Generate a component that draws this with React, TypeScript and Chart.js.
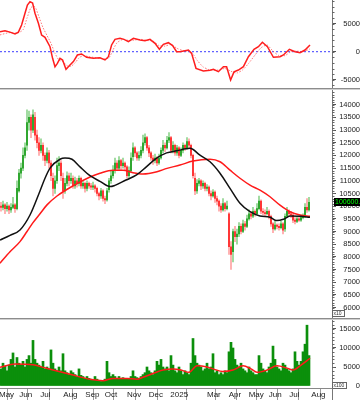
import React, { useEffect, useRef } from "react";
import { Chart, registerables } from "chart.js";

Chart.register(...registerables);

// ---------------- data ----------------
// x axis = candle index (each candle ~2 trading days)
const monthTickIdx = [-2, 8.15, 18.65, 30.15, 41.15, 50.85, 62, 72.85, 83.65, 102, 112.85, 122.85, 132.85, 143.15, 154.15];
const monthLabels = ["May", "Jun", "Jul", "Aug", "Sep", "Oct", "Nov", "Dec", "2025", "Mar", "Apr", "May", "Jun", "Jul", "Aug"];

const macdTicks = [-5000, 0, 5000];
const priceTicks = [6000, 6500, 7000, 7500, 8000, 8500, 9000, 9500, 10000, 10500, 11000, 11500, 12000, 12500, 13000, 13500, 14000];
const volumeTicks = [0, 5000, 10000, 15000];
const lastPriceLabel = "100600.0";

const opens = [
  10000, 9950, 10050, 9900, 10000, 9850, 9950, 10050, 9900, 10600,
  11300, 11500, 12000, 12400, 13300, 13500, 13000, 13500, 12800, 12500,
  12200, 12400, 12000, 11800, 12100, 11700, 11100, 10700, 11000, 11600,
  11700, 11100, 10600, 10900, 11200, 11000, 11100, 10800, 11000, 10900,
  11100, 10800, 10900, 10700, 10900, 10800, 10750, 10800, 10700, 10500,
  10400, 10600, 10300, 10250, 10650, 11000, 11200, 11400, 11700, 11500,
  11800, 11600, 11700, 11550, 11200, 11400, 11950, 12300, 12100, 11900,
  12000, 12200, 12500, 12700, 12300, 12100, 11900, 11800, 11900, 11700,
  11900, 12200, 12400, 12300, 12600, 12700, 12200, 12400, 12100, 12300,
  12000, 12200, 12400, 12300, 12550, 12400, 12000, 11100, 10600, 10900,
  11000, 10800, 10900, 10700, 10750, 10500, 10400, 10550, 10300, 10200,
  10000, 9850, 10100, 9900, 9700, 8400, 8200, 9000, 8800, 8900,
  9200, 9000, 9300, 9200, 9500, 9700, 9600, 9800, 9700, 9900,
  10200, 9800, 9750, 9700, 9800, 9600, 9300, 9100, 9250, 9200,
  9150, 9300, 9100, 9600, 9800, 9700, 9650, 9450, 9400, 9500,
  9450, 9550, 9650, 9950, 9850,
];
const highs = [
  10150, 10200, 10100, 10150, 10050, 10100, 10350, 10100, 11000, 11450,
  11700, 12300, 12500, 13800, 13750, 13600, 13800, 13700, 13000, 12700,
  12650, 12500, 12100, 12300, 12200, 11800, 11300, 11200, 11900, 11950,
  11800, 11300, 11100, 11350, 11300, 11300, 11200, 11150, 11100, 11200,
  11150, 11000, 10950, 11000, 10950, 10900, 10950, 10850, 10750, 10550,
  10700, 10650, 10400, 10700, 11100, 11400, 11600, 11900, 11800, 11950,
  11850, 11900, 11750, 11600, 11550, 12100, 12500, 12350, 12150, 12150,
  12350, 12800, 12850, 12750, 12400, 12150, 12000, 12050, 11950, 12050,
  12300, 12600, 12500, 12750, 12900, 12750, 12550, 12450, 12400, 12350,
  12300, 12500, 12450, 12700, 12650, 12450, 12050, 11300, 11050, 11100,
  11050, 11000, 10950, 10850, 10800, 10600, 10650, 10600, 10400, 10250,
  10100, 10300, 10150, 10200, 9750, 8600, 9100, 9200, 9100, 9350,
  9300, 9450, 9400, 9650, 9850, 9800, 9950, 9850, 10100, 10400,
  10250, 9900, 9850, 9950, 9850, 9650, 9350, 9400, 9300, 9300,
  9400, 9350, 9700, 9950, 9850, 9800, 9700, 9550, 9600, 9600,
  9650, 9700, 10100, 10300, 10350,
];
const lows = [
  9800, 9850, 9700, 9800, 9700, 9750, 9900, 9750, 9850, 10550,
  11100, 11400, 11900, 12200, 13000, 12700, 12900, 12600, 12300, 12000,
  12100, 11800, 11600, 11700, 11500, 11000, 10400, 10500, 10900, 11400,
  11000, 10300, 10500, 10800, 10800, 10900, 10700, 10700, 10750, 10800,
  10700, 10700, 10550, 10600, 10700, 10650, 10650, 10550, 10400, 10250,
  10300, 10200, 10100, 10200, 10550, 10900, 11100, 11300, 11400, 11400,
  11450, 11500, 11400, 11100, 11100, 11350, 11800, 11950, 11800, 11800,
  11900, 12100, 12400, 12200, 11950, 11800, 11650, 11700, 11600, 11650,
  11850, 12100, 12150, 12250, 12500, 12100, 12100, 12000, 12000, 11900,
  11950, 12100, 12200, 12250, 12300, 11900, 11100, 10450, 10500, 10800,
  10650, 10700, 10600, 10600, 10400, 10250, 10350, 10150, 10050, 9800,
  9750, 9800, 9800, 9850, 8100, 7500, 7800, 8600, 8500, 8800,
  8900, 8950, 9050, 9150, 9450, 9500, 9550, 9600, 9650, 9850,
  9700, 9650, 9600, 9650, 9500, 9200, 8950, 9050, 9100, 9050,
  9100, 8900, 9000, 9550, 9600, 9550, 9350, 9300, 9350, 9400,
  9400, 9500, 9550, 9750, 9800,
];
const closes = [
  9950, 10050, 9900, 10000, 9850, 9950, 10050, 9900, 10700, 11300,
  11500, 12000, 12300, 13300, 13500, 13000, 13600, 12800, 12500, 12200,
  12400, 12000, 11800, 12100, 11700, 11200, 10700, 11000, 11600, 11700,
  11200, 10600, 10900, 11200, 11000, 11100, 10800, 11000, 10900, 11100,
  10800, 10900, 10700, 10900, 10800, 10750, 10800, 10700, 10500, 10400,
  10600, 10300, 10250, 10600, 11000, 11200, 11400, 11700, 11500, 11800,
  11600, 11700, 11550, 11200, 11400, 11900, 12300, 12100, 11900, 12000,
  12200, 12500, 12700, 12300, 12100, 11900, 11800, 11900, 11700, 11900,
  12200, 12400, 12300, 12600, 12700, 12200, 12400, 12100, 12300, 12000,
  12200, 12400, 12300, 12550, 12400, 12000, 11200, 10600, 10900, 11000,
  10800, 10900, 10700, 10750, 10500, 10400, 10550, 10300, 10200, 10000,
  9850, 10100, 9900, 10000, 8400, 8100, 9000, 8800, 8900, 9200,
  9000, 9300, 9200, 9500, 9700, 9600, 9800, 9700, 9900, 10200,
  9800, 9750, 9700, 9800, 9600, 9300, 9100, 9250, 9200, 9150,
  9300, 9050, 9600, 9800, 9700, 9650, 9450, 9400, 9500, 9450,
  9550, 9600, 9950, 9850, 10150,
];
const volumes = [
  4500, 6000, 5200, 4000, 5500, 7000, 8700, 5000, 7500, 6000,
  5500, 6500, 5000, 7000, 8000, 6000, 12000, 7000, 6000, 5500,
  5000, 6500, 4500, 5000, 4500, 9500, 6000, 4500, 4000, 5000,
  4000, 8500, 4000, 3500, 3000, 4000, 3500, 3000, 2500, 4500,
  2800, 2500, 2000, 2500, 2000, 1800, 1500, 2500, 1800, 1500,
  1200, 1500, 1800, 6500, 3500, 2500, 3000, 2500, 2000, 2500,
  1800, 2200, 2000, 1800, 2000, 2500, 4000, 2500, 2200, 2000,
  2500, 3000, 3500, 5000, 4000, 3500, 3000, 4000, 6500, 5500,
  7000, 5000, 4500, 5000, 4000, 8000, 5500, 4000, 3500, 5000,
  4000, 3000, 4000, 3500, 3000, 6000, 12500, 8000, 6000, 5500,
  5000, 4000, 4500, 6000, 4500, 5000, 8500, 3500, 4000, 3000,
  3500, 3000, 4000, 3500, 9000, 11500, 10000, 7000, 5500, 5000,
  6000, 4500, 4000, 3500, 5000, 4000, 3500, 3000, 3000, 8000,
  6000, 4500, 4000, 3500, 5000, 6000, 10500, 7000, 5000, 4500,
  4000, 6000, 5500, 4500, 4000, 3500, 4500, 9000, 6500, 5500,
  6500, 9000, 11000, 16000, 8000,
];

// moving averages: [candle index, value]
const maBlack: [number, number][] = [
  [-0.5, 8660], [4.5, 8850], [9.5, 9060], [14.5, 9650], [19.5, 10600], [22, 11100], [24.5, 11500],
  [29.5, 11850], [32, 11900], [35.5, 11850], [39.5, 11550], [44.5, 11200], [49.5, 10980],
  [54.5, 10770], [57, 10820], [62.5, 11030], [67.8, 11230], [72.8, 11560], [77.8, 11890],
  [82.8, 12100], [87.8, 12180], [94.5, 12280], [99.5, 12010], [104.5, 11750], [109.5, 11300],
  [114.5, 10700], [119.5, 10110], [124.5, 9780], [129.5, 9610], [134.5, 9560], [137.8, 9430],
  [141.2, 9480], [144.5, 9610], [149.5, 9600], [154.5, 9560],
];
const maRed: [number, number][] = [
  [-0.5, 7750], [4.5, 8200], [9.5, 8600], [13, 9000], [16, 9350], [19.5, 9700], [23, 10050],
  [28, 10400], [36, 10800], [44.5, 11150], [49.5, 11300], [56, 11420], [61, 11420], [66, 11320],
  [71, 11270], [78, 11360], [83, 11490], [89.5, 11620], [96, 11780], [104.5, 11850],
  [109.5, 11750], [114.5, 11420], [119.5, 11100], [124.5, 10830], [129.5, 10630],
  [134.5, 10370], [139.5, 10040], [144.5, 9780], [149.5, 9650], [154.5, 9600],
];
const macd: [number, number][] = [
  [-0.5, 3570], [2, 3750], [4.5, 3500], [7, 3160], [8.7, 3500], [10.3, 4770], [12, 6860],
  [13.2, 8340], [14.5, 8930], [15.8, 8700], [17, 6860], [18.7, 5070], [20.3, 2980], [22, 2570],
  [24.5, 890], [25.8, -1180], [27, -2680], [28.2, -2100], [29.5, -1180], [30.8, -1500],
  [32.5, -3140], [34.5, -2380], [36.2, -1770], [38.2, -590], [40.3, -410], [42.8, -1000],
  [46.2, -1180], [49.5, -1100], [52, -1480], [53.7, -890], [55.3, 1200], [57, 2210],
  [59.5, 2390], [61.5, 2200], [63.7, 1790], [66.2, 2390], [69.5, 2100], [72, 1950],
  [74.5, 2210], [77, 1500], [79.2, 430], [81.2, 1320], [83.7, 1610], [85.8, 1100],
  [87.8, 0], [89.5, 0], [93.7, 300], [95.3, -300], [97.5, -2970], [101.2, -3450],
  [104.5, -3300], [106.2, -3140], [108.7, -3570], [111.2, -2680], [112.8, -2700],
  [114.8, -5060], [116.5, -3600], [118.7, -3270], [121.2, -2680], [123.7, -890],
  [126.5, 430], [128.7, 890], [130.7, 1680], [133.2, 900], [136.2, -1000], [139.5, -900],
  [141.2, -590], [144.2, 430], [147, 0], [149.5, -180], [152, 300], [154.5, 1200],
];
const macdSignal: [number, number][] = [
  [-0.5, 3000], [4, 3400], [8, 3300], [11, 3900], [13, 6000], [15, 7900], [17, 8000],
  [19, 6200], [21, 4300], [23, 2900], [25, 1500], [27, -300], [29, -1500], [31, -1800],
  [33, -2500], [35, -2600], [37, -2000], [39, -1100], [41, -700], [44, -900], [48, -1100],
  [52, -1300], [54, -1100], [56, 300], [58, 1600], [61, 2200], [64, 2000], [67, 2100],
  [70, 2200], [73, 2000], [76, 1900], [79, 1100], [82, 1000], [85, 1300], [88, 600],
  [91, 200], [95, 0], [98, -1500], [101, -2700], [104, -3200], [108, -3300], [112, -3000],
  [115, -3500], [118, -3800], [121, -3200], [124, -2000], [127, -600], [130, 700],
  [133, 1200], [136, 100], [139, -700], [142, -700], [145, 0], [148, 100], [151, 0], [154.5, 500],
];
const volumeMa: [number, number][] = [
  [-0.5, 4900], [7, 5800], [16, 5600], [21, 4900], [26, 4200], [33, 3300], [38, 2600],
  [45, 1700], [51, 1400], [56, 2000], [63, 2000], [68, 1800], [71, 2300], [76, 3300],
  [81, 4200], [86, 4500], [90, 4200], [94, 3600], [98, 5300], [103, 5000], [106, 4500],
  [111, 3800], [116, 4200], [121, 5300], [125, 4500], [128, 3600], [133, 4200], [138, 5300],
  [143, 4700], [146, 4200], [150, 5500], [154.5, 7300],
];

// ---------------- styling / layout ----------------
const FONT = "'Liberation Sans', Arial, sans-serif";
const X_MIN = -0.5;
const X_MAX = 165.5;
const AXIS_W = 28;
const UP = "#2ea62e";
const UP_WICK = "#8fd48f";
const DOWN = "#ff3434";
const DOWN_WICK = "#ffa3a3";

const pts = (arr: [number, number][]) => arr.map(([x, y]) => ({ x, y }));

const common: any = {
  responsive: false,
  animation: false,
  devicePixelRatio: 1,
  events: [],
  layout: { padding: 0 },
  plugins: { legend: { display: false }, tooltip: { enabled: false } },
};

const xHidden: any = { type: "linear", min: X_MIN, max: X_MAX, offset: false, display: false };

function yAxis(ticks: number[], min: number, max: number, pad: number): any {
  return {
    type: "linear",
    position: "right",
    min,
    max,
    afterBuildTicks: (s: any) => {
      s.ticks = ticks.map((v) => ({ value: v }));
    },
    afterFit: (s: any) => {
      s.width = AXIS_W;
      s.paddingTop = 0;
      s.paddingBottom = 0;
    },
    grid: { drawOnChartArea: false, drawTicks: true, tickLength: 4, tickColor: "#555", tickWidth: 1 },
    border: { display: true, color: "#777", width: 1 },
    ticks: {
      autoSkip: false,
      crossAlign: "far",
      padding: pad,
      color: "#222",
      font: { family: FONT, size: 7.5 },
      callback: (v: any) => String(v),
    },
  };
}

const minorTicks = (step: number) => ({
  id: "minorTicks",
  afterDraw(chart: any) {
    const s = chart.scales.y;
    const ctx = chart.ctx;
    ctx.save();
    ctx.strokeStyle = "#666";
    ctx.lineWidth = 1;
    for (let v = Math.ceil(s.min / step) * step; v <= s.max; v += step) {
      const y = Math.round(s.getPixelForValue(v)) + 0.5;
      ctx.beginPath();
      ctx.moveTo(s.left, y);
      ctx.lineTo(s.left + 2.5, y);
      ctx.stroke();
    }
    ctx.restore();
  },
});

const unitBox = (text: string, top: number, w: number) => ({
  id: "unitBox",
  afterDraw(chart: any) {
    const ctx = chart.ctx;
    const left = chart.chartArea.right;
    ctx.save();
    ctx.fillStyle = "#fff";
    ctx.fillRect(left + 0.5, top + 0.5, w, 6);
    ctx.strokeStyle = "#666";
    ctx.lineWidth = 1;
    ctx.strokeRect(left + 0.5, top + 0.5, w, 6);
    ctx.fillStyle = "#333";
    ctx.font = `5px ${FONT}`;
    ctx.textBaseline = "middle";
    ctx.fillText(text, left + 1.5, top + 3.8);
    ctx.restore();
  },
});

const priceTag = {
  id: "priceTag",
  afterDraw(chart: any) {
    const s = chart.scales.y;
    const ctx = chart.ctx;
    const y = s.getPixelForValue(closes[closes.length - 1]);
    ctx.save();
    ctx.fillStyle = "#000";
    ctx.fillRect(s.left + 2, Math.round(y - 4), 40, 8);
    ctx.fillStyle = "#00ff00";
    ctx.font = `7px ${FONT}`;
    ctx.textBaseline = "middle";
    ctx.fillText(lastPriceLabel, s.left + 3, Math.round(y) + 0.5);
    ctx.restore();
  },
};

const axisExtend = {
  id: "axisExtend",
  afterDraw(chart: any) {
    const ctx = chart.ctx;
    const x = Math.round(chart.chartArea.right) + 0.5;
    ctx.save();
    ctx.strokeStyle = "#777";
    ctx.lineWidth = 1;
    ctx.beginPath();
    ctx.moveTo(x, chart.chartArea.bottom);
    ctx.lineTo(x, chart.height);
    ctx.stroke();
    ctx.restore();
  },
};

export default function App() {
  const r1 = useRef<HTMLCanvasElement>(null);
  const r2 = useRef<HTMLCanvasElement>(null);
  const r3 = useRef<HTMLCanvasElement>(null);

  useEffect(() => {
    const top = new Chart(r1.current as HTMLCanvasElement, {
      type: "line",
      data: {
        datasets: [
          { data: pts(macd), borderColor: "#ff1e1e", borderWidth: 1.5, pointRadius: 0, tension: 0 } as any,
          { data: pts(macdSignal), borderColor: "rgba(255,80,80,0.75)", borderWidth: 1, borderDash: [1.5, 1.5], pointRadius: 0, tension: 0.2 } as any,
          { data: [{ x: X_MIN, y: 0 }, { x: X_MAX, y: 0 }], borderColor: "#3c3cff", borderWidth: 1, borderDash: [2, 2], pointRadius: 0 } as any,
        ],
      },
      options: { ...common, scales: { x: xHidden, y: yAxis(macdTicks, -6482, 9232, 3.3) } },
      plugins: [minorTicks(1000)],
    } as any);

    const mid = new Chart(r2.current as HTMLCanvasElement, {
      type: "bar",
      data: {
        datasets: [
          { type: "line", data: pts(maBlack), borderColor: "#111", borderWidth: 1.5, pointRadius: 0, cubicInterpolationMode: "monotone", order: 0 },
          { type: "line", data: pts(maRed), borderColor: "#ff1a1a", borderWidth: 1.5, pointRadius: 0, cubicInterpolationMode: "monotone", order: 0 },
          {
            type: "bar",
            data: closes.map((c, i) => ({ x: i, y: [opens[i], c] })),
            backgroundColor: (ctx: any) => (closes[ctx.dataIndex] >= opens[ctx.dataIndex] ? UP : DOWN),
            barThickness: 1.3,
            grouped: false,
            borderWidth: 0,
            order: 1,
          },
          {
            type: "bar",
            data: highs.map((h, i) => ({ x: i, y: [lows[i], h] })),
            backgroundColor: (ctx: any) => (closes[ctx.dataIndex] >= opens[ctx.dataIndex] ? UP_WICK : DOWN_WICK),
            barThickness: 1,
            grouped: false,
            borderWidth: 0,
            order: 2,
          },
        ],
      },
      options: { ...common, scales: { x: xHidden, y: yAxis(priceTicks, 5589, 14580, 1.85) } },
      plugins: [minorTicks(100), priceTag, unitBox("x10", 220, 12)],
    } as any);

    const bot = new Chart(r3.current as HTMLCanvasElement, {
      type: "bar",
      data: {
        datasets: [
          { type: "line", data: pts(volumeMa), borderColor: "#ff1a1a", borderWidth: 1.5, pointRadius: 0, cubicInterpolationMode: "monotone", order: 0 },
          {
            type: "bar",
            data: volumes.map((v, i) => ({ x: i, y: v })),
            backgroundColor: "#0b8f0b",
            barThickness: 2,
            grouped: false,
            borderWidth: 0,
            order: 1,
          },
        ],
      },
      options: {
        ...common,
        scales: {
          x: {
            type: "linear",
            min: X_MIN,
            max: X_MAX,
            offset: false,
            position: "bottom",
            afterBuildTicks: (s: any) => {
              s.ticks = monthTickIdx.map((v) => ({ value: v }));
            },
            afterFit: (s: any) => {
              s.height = 12;
              s.paddingLeft = 0;
              s.paddingRight = 0;
            },
            grid: { drawOnChartArea: false, drawTicks: true, tickLength: 12, tickColor: "#999", tickWidth: 1 },
            border: { display: true, color: "#888", width: 1 },
            ticks: {
              autoSkip: false,
              maxRotation: 0,
              minRotation: 0,
              align: "start",
              labelOffset: 2,
              padding: -10,
              color: "#222",
              font: { family: FONT, size: 8 },
              callback: (_v: any, i: number) => monthLabels[i] ?? "",
            },
          },
          y: yAxis(volumeTicks, -526, 17368, -3.4),
        },
      },
      plugins: [minorTicks(1000), unitBox("x100", 62, 14), axisExtend],
    } as any);

    return () => {
      top.destroy();
      mid.destroy();
      bot.destroy();
    };
  }, []);

  const sep = { height: 2, background: "linear-gradient(#8c8c8c 0 50%, #d0d0d0 50% 100%)" };
  return (
    <div style={{ position: "absolute", left: 0, top: 0, width: 360, height: 400, background: "#fff", overflow: "hidden" }}>
      <canvas ref={r1} width={360} height={88} style={{ display: "block", width: 360, height: 88 }} />
      <div style={sep} />
      <canvas ref={r2} width={360} height={228} style={{ display: "block", width: 360, height: 228 }} />
      <div style={sep} />
      <canvas ref={r3} width={360} height={80} style={{ display: "block", width: 360, height: 80 }} />
    </div>
  );
}
